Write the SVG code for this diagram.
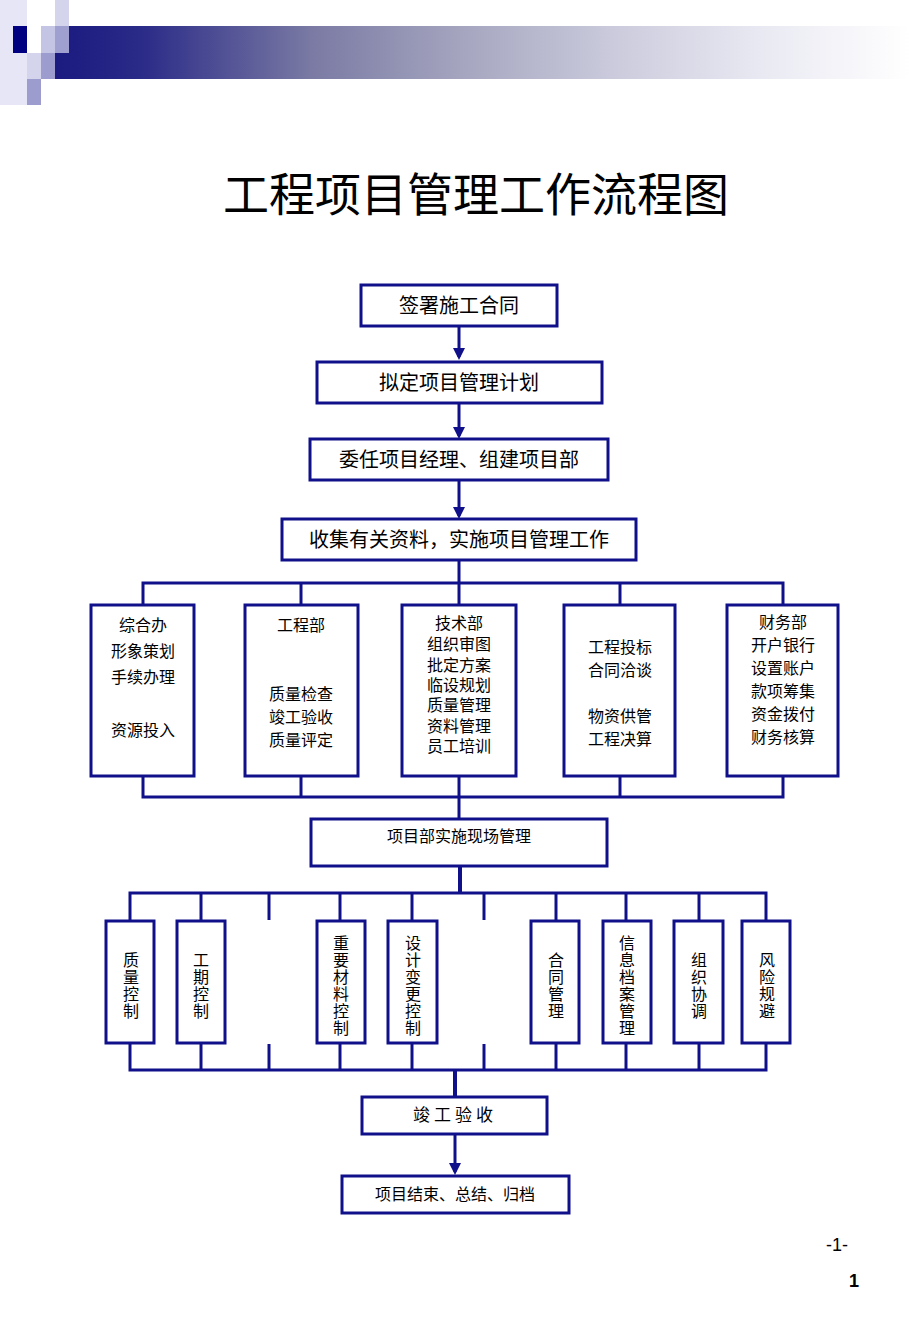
<svg xmlns="http://www.w3.org/2000/svg" width="920" height="1329" viewBox="0 0 920 1329">
<style>
.box{fill:#ffffff;stroke:#10108a;stroke-width:3}
.ln{fill:none;stroke:#10108a;stroke-width:3}
.thk{fill:none;stroke:#10108a;stroke-width:4}
.t{font-family:"Liberation Sans","Noto Sans CJK SC",sans-serif;fill:#000;text-anchor:middle;dominant-baseline:central}
.t20{font-size:20px}
.t16{font-size:16px}
.t17{font-size:17px}
.tv{font-size:16px}
</style>
<defs>
<linearGradient id="bar" gradientUnits="userSpaceOnUse" x1="55" y1="0" x2="910" y2="0">
<stop offset="0" stop-color="#1a1a80"/>
<stop offset="0.1" stop-color="#2a2a88"/>
<stop offset="0.3" stop-color="#7a7aa4"/>
<stop offset="0.48" stop-color="#a6a6c0"/>
<stop offset="0.65" stop-color="#cacadc"/>
<stop offset="0.82" stop-color="#e8e8f2"/>
<stop offset="1" stop-color="#ffffff"/>
</linearGradient>
<marker id="arr" viewBox="0 0 10 10" refX="7.5" refY="5" markerWidth="12" markerHeight="12" markerUnits="userSpaceOnUse" orient="auto">
<path d="M0,0 L10,5 L0,10 z" fill="#10108a"/>
</marker>
</defs>

<g id="header">
<rect x="0" y="0" width="27" height="105" fill="#e6e6f6"/>
<rect x="55" y="0" width="14" height="26" fill="#d4d4ec"/>
<rect x="69" y="26" width="841" height="27" fill="url(#bar)"/>
<rect x="55" y="53" width="855" height="26" fill="url(#bar)"/>
<rect x="13" y="26" width="14" height="27" fill="#000080"/>
<rect x="41" y="26" width="14" height="27" fill="#c4c4e4"/>
<rect x="55" y="26" width="14" height="27" fill="#a0a0d0"/>
<rect x="27" y="53" width="14" height="26" fill="#d4d4ec"/>
<rect x="41" y="53" width="14" height="26" fill="#9c9cce"/>
<rect x="27" y="79" width="14" height="26" fill="#9c9cce"/>
</g>

<text id="title" class="t" x="476" y="195" font-size="46" style="font-family:'Liberation Serif','Noto Sans CJK SC',serif">工程项目管理工作流程图</text>

<g id="connectors">
<line class="ln" x1="459" y1="326" x2="459" y2="357" marker-end="url(#arr)"/>
<line class="ln" x1="459" y1="403" x2="459" y2="436" marker-end="url(#arr)"/>
<line class="ln" x1="459" y1="480" x2="459" y2="516" marker-end="url(#arr)"/>
<line class="ln" x1="459" y1="560" x2="459" y2="583"/>
<polyline class="ln" points="143,605 143,583 783,583 783,605"/>
<line class="ln" x1="301" y1="583" x2="301" y2="605"/>
<line class="ln" x1="459" y1="583" x2="459" y2="605"/>
<line class="ln" x1="620" y1="583" x2="620" y2="605"/>
<polyline class="ln" points="143,776 143,797 783,797 783,776"/>
<line class="ln" x1="301" y1="776" x2="301" y2="797"/>
<line class="ln" x1="459" y1="776" x2="459" y2="819"/>
<line class="ln" x1="620" y1="776" x2="620" y2="797"/>
<line class="thk" x1="460" y1="866" x2="460" y2="893"/>
<polyline class="ln" points="130,921 130,893 766,893 766,921"/>
<line class="ln" x1="201" y1="893" x2="201" y2="921"/>
<line class="ln" x1="269" y1="893" x2="269" y2="920"/>
<line class="ln" x1="340" y1="893" x2="340" y2="921"/>
<line class="ln" x1="412" y1="893" x2="412" y2="921"/>
<line class="ln" x1="484" y1="893" x2="484" y2="920"/>
<line class="ln" x1="556" y1="893" x2="556" y2="921"/>
<line class="ln" x1="626" y1="893" x2="626" y2="921"/>
<line class="ln" x1="699" y1="893" x2="699" y2="921"/>
<polyline class="ln" points="130,1043 130,1070 766,1070 766,1043"/>
<line class="ln" x1="201" y1="1043" x2="201" y2="1070"/>
<line class="ln" x1="269" y1="1044" x2="269" y2="1070"/>
<line class="ln" x1="340" y1="1043" x2="340" y2="1070"/>
<line class="ln" x1="412" y1="1043" x2="412" y2="1070"/>
<line class="ln" x1="484" y1="1044" x2="484" y2="1070"/>
<line class="ln" x1="556" y1="1043" x2="556" y2="1070"/>
<line class="ln" x1="626" y1="1043" x2="626" y2="1070"/>
<line class="ln" x1="699" y1="1043" x2="699" y2="1070"/>
<line class="thk" x1="455" y1="1070" x2="455" y2="1097"/>
<line class="ln" x1="455" y1="1134" x2="455" y2="1172" marker-end="url(#arr)"/>
</g>

<g id="n1"><rect class="box" x="361" y="285" width="196" height="41"/><text class="t t20" x="459" y="306">签署施工合同</text></g>
<g id="n2"><rect class="box" x="317" y="362" width="285" height="41"/><text class="t t20" x="459" y="383">拟定项目管理计划</text></g>
<g id="n3"><rect class="box" x="310" y="439" width="298" height="41"/><text class="t t20" x="459" y="460">委任项目经理、组建项目部</text></g>
<g id="n4"><rect class="box" x="282" y="519" width="354" height="41"/><text class="t t20" x="459" y="540">收集有关资料，实施项目管理工作</text></g>

<g id="d1"><rect class="box" x="91" y="605" width="103" height="171"/>
<text class="t t16" x="143"><tspan x="143" y="625">综合办</tspan><tspan x="143" y="651">形象策划</tspan><tspan x="143" y="677">手续办理</tspan><tspan x="143" y="730">资源投入</tspan></text></g>
<g id="d2"><rect class="box" x="245" y="605" width="113" height="171"/>
<text class="t t16" x="301"><tspan x="301" y="625">工程部</tspan><tspan x="301" y="694">质量检查</tspan><tspan x="301" y="717">竣工验收</tspan><tspan x="301" y="740">质量评定</tspan></text></g>
<g id="d3"><rect class="box" x="402" y="605" width="114" height="171"/>
<text class="t t16" x="459"><tspan x="459" y="623">技术部</tspan><tspan x="459" y="644">组织审图</tspan><tspan x="459" y="665">批定方案</tspan><tspan x="459" y="685">临设规划</tspan><tspan x="459" y="705">质量管理</tspan><tspan x="459" y="726">资料管理</tspan><tspan x="459" y="746">员工培训</tspan></text></g>
<g id="d4"><rect class="box" x="564" y="605" width="111" height="171"/>
<text class="t t16" x="620"><tspan x="620" y="647">工程投标</tspan><tspan x="620" y="670">合同洽谈</tspan><tspan x="620" y="716">物资供管</tspan><tspan x="620" y="739">工程决算</tspan></text></g>
<g id="d5"><rect class="box" x="727" y="605" width="111" height="171"/>
<text class="t t16" x="783"><tspan x="783" y="622">财务部</tspan><tspan x="783" y="645">开户银行</tspan><tspan x="783" y="668">设置账户</tspan><tspan x="783" y="691">款项筹集</tspan><tspan x="783" y="714">资金拨付</tspan><tspan x="783" y="737">财务核算</tspan></text></g>

<g id="n5"><rect class="box" x="311" y="819" width="296" height="47"/><text class="t t16" x="459" y="836">项目部实施现场管理</text></g>

<g id="v1"><rect class="box" x="106" y="921" width="48" height="122"/>
<text class="t tv"><tspan x="131" y="960">质</tspan><tspan x="131" y="977">量</tspan><tspan x="131" y="994">控</tspan><tspan x="131" y="1011">制</tspan></text></g>
<g id="v2"><rect class="box" x="177" y="921" width="48" height="122"/>
<text class="t tv"><tspan x="201" y="960">工</tspan><tspan x="201" y="977">期</tspan><tspan x="201" y="994">控</tspan><tspan x="201" y="1011">制</tspan></text></g>
<g id="v3"><rect class="box" x="317" y="921" width="48" height="122"/>
<text class="t tv"><tspan x="341" y="943">重</tspan><tspan x="341" y="960">要</tspan><tspan x="341" y="977">材</tspan><tspan x="341" y="994">料</tspan><tspan x="341" y="1011">控</tspan><tspan x="341" y="1028">制</tspan></text></g>
<g id="v4"><rect class="box" x="388" y="921" width="49" height="122"/>
<text class="t tv"><tspan x="413" y="943">设</tspan><tspan x="413" y="960">计</tspan><tspan x="413" y="977">变</tspan><tspan x="413" y="994">更</tspan><tspan x="413" y="1011">控</tspan><tspan x="413" y="1028">制</tspan></text></g>
<g id="v5"><rect class="box" x="531" y="921" width="48" height="122"/>
<text class="t tv"><tspan x="556" y="960">合</tspan><tspan x="556" y="977">同</tspan><tspan x="556" y="994">管</tspan><tspan x="556" y="1011">理</tspan></text></g>
<g id="v6"><rect class="box" x="603" y="921" width="48" height="122"/>
<text class="t tv"><tspan x="627" y="943">信</tspan><tspan x="627" y="960">息</tspan><tspan x="627" y="977">档</tspan><tspan x="627" y="994">案</tspan><tspan x="627" y="1011">管</tspan><tspan x="627" y="1028">理</tspan></text></g>
<g id="v7"><rect class="box" x="674" y="921" width="49" height="122"/>
<text class="t tv"><tspan x="699" y="960">组</tspan><tspan x="699" y="977">织</tspan><tspan x="699" y="994">协</tspan><tspan x="699" y="1011">调</tspan></text></g>
<g id="v8"><rect class="box" x="742" y="921" width="48" height="122"/>
<text class="t tv"><tspan x="767" y="960">风</tspan><tspan x="767" y="977">险</tspan><tspan x="767" y="994">规</tspan><tspan x="767" y="1011">避</tspan></text></g>

<g id="n6"><rect class="box" x="362" y="1097" width="185" height="37"/><text class="t t17" x="455" y="1115" letter-spacing="4">竣工验收</text></g>
<g id="n7"><rect class="box" x="342" y="1176" width="227" height="37"/><text class="t t16" x="455" y="1194">项目结束、总结、归档</text></g>

<text class="t" x="837" y="1245" font-size="18">-1-</text>
<text class="t" x="854" y="1281" font-size="18" font-weight="bold">1</text>
</svg>
